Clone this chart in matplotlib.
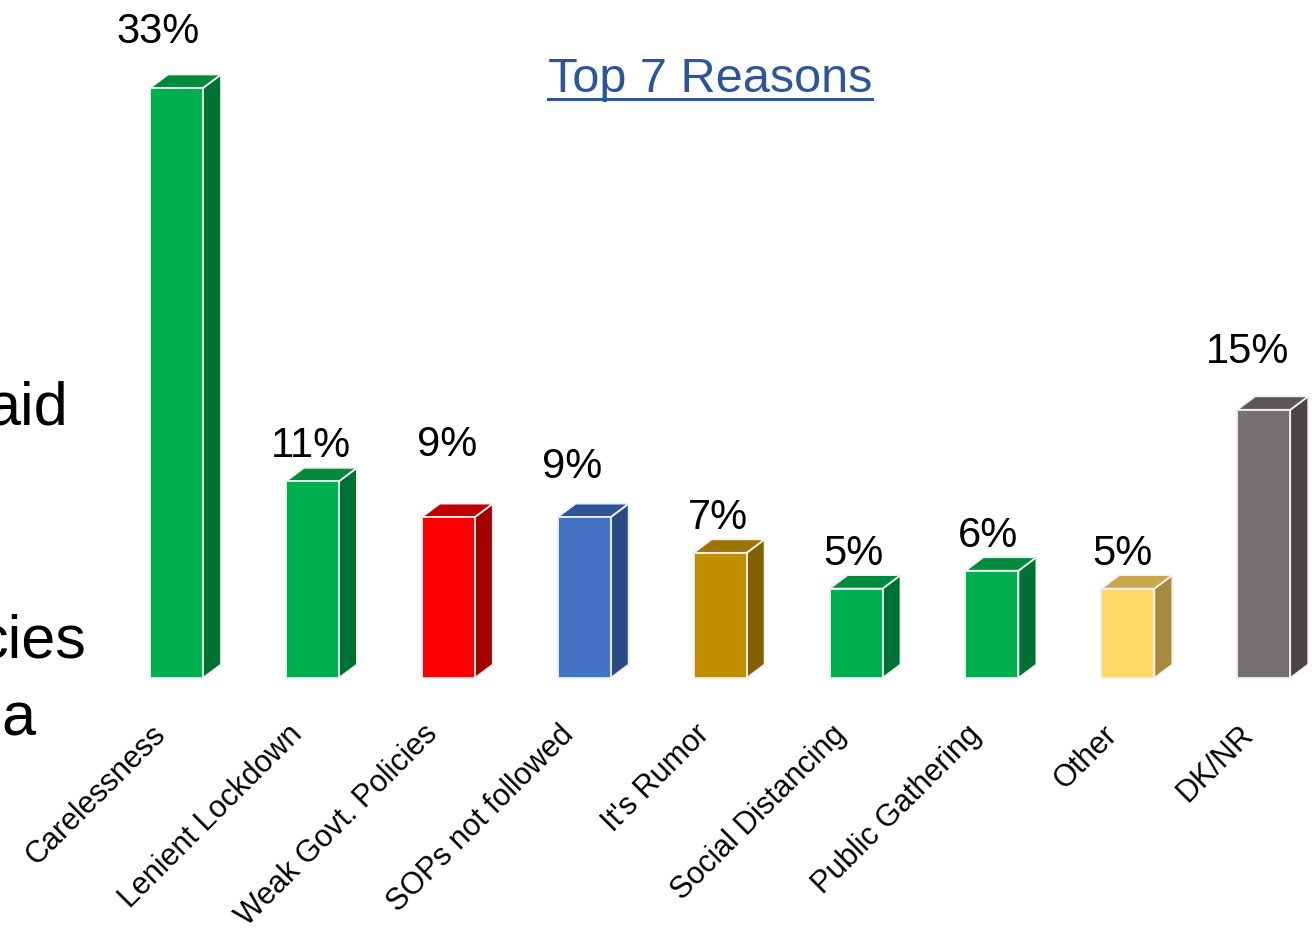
import matplotlib
matplotlib.use("Agg")
import matplotlib.pyplot as plt
from matplotlib.patches import Polygon
from matplotlib.lines import Line2D

plt.rcParams["font.family"] = ["Liberation Sans", "DejaVu Sans"]

categories = ["Carelessness", "Lenient Lockdown", "Weak Govt. Policies",
              "SOPs not followed", "It's Rumor", "Social Distancing",
              "Public Gathering", "Other", "DK/NR"]
values = [33, 11, 9, 9, 7, 5, 6, 5, 15]

# (front, top, side) shades per bar
palette = {
    "green": ("#00B050", "#008A3E", "#007133"),
    "red": ("#FF0000", "#C00000", "#A30000"),
    "blue": ("#4472C4", "#2F5597", "#2B4A82"),
    "gold": ("#BF8F00", "#9C7400", "#806000"),
    "yellow": ("#FFD966", "#C9A84C", "#A68B3F"),
    "gray": ("#767171", "#5A5656", "#4A4646"),
}
bar_colors = ["green", "green", "red", "blue", "gold", "green", "green",
              "yellow", "gray"]

# label nudges in pixels (dx, dy above front top)
label_nudge = [(-18, 56), (-1, 35), (-1, 72), (-12, 50), (-2, 35),
               (-3, 35), (-4, 35), (-5, 35), (-16, 58)]

W, H, DPI = 1312, 936, 100
fig = plt.figure(figsize=(W / DPI, H / DPI), dpi=DPI)
ax = fig.add_axes([0, 0, 1, 1])
ax.set_axis_off()

x0_px, step_px = 176.5, 135.9
base_px, px_per_pct = 678, 17.88
ax.set_xlim(-x0_px / step_px, (W - x0_px) / step_px)
ax.set_ylim(-(H - base_px) / px_per_pct, base_px / px_per_pct)

half_w = 26.5 / step_px
dx = 18 / step_px
dy = 13.5 / px_per_pct
edge = dict(edgecolor="#F0F0F0", linewidth=1.3, joinstyle="miter")

for i, (v, c) in enumerate(zip(values, bar_colors)):
    front, top, side = palette[c]
    l, r = i - half_w, i + half_w
    ax.add_patch(Polygon([(r, 0), (r + dx, dy), (r + dx, v + dy), (r, v)],
                         closed=True, facecolor=side, **edge))
    ax.add_patch(Polygon([(l, v), (r, v), (r + dx, v + dy), (l + dx, v + dy)],
                         closed=True, facecolor=top, **edge))
    ax.add_patch(Polygon([(l, 0), (r, 0), (r, v), (l, v)],
                         closed=True, facecolor=front, **edge))
    ndx, ndy = label_nudge[i]
    ax.annotate(f"{v}%", (i, v), xytext=(ndx, ndy), textcoords="offset pixels",
                ha="center", va="center", fontsize=30, color="black")
    ax.annotate(categories[i], (i, 0), xytext=(-15, -52),
                textcoords="offset pixels", ha="right", va="center",
                rotation=45, rotation_mode="anchor", fontsize=22,
                color="black")

# title with underline
title = fig.text(710 / W, 1 - 80 / H, "Top 7 Reasons", ha="center",
                 va="center", fontsize=35, color="#2F5597")
fig.canvas.draw()
bb = title.get_window_extent(fig.canvas.get_renderer())
uy = bb.y0 + 4
fig.add_artist(Line2D([bb.x0 / W, bb.x1 / W], [uy / H, uy / H],
                      color="#2F5597", linewidth=2.2))

# cut-off text fragments from the slide on the left
fig.text(68 / W, 1 - 425 / H, "aid", ha="right", va="baseline",
         fontsize=44, color="black")
fig.text(86 / W, 1 - 658 / H, "cies", ha="right", va="baseline",
         fontsize=44, color="black")
fig.text(35 / W, 1 - 735 / H, "a", ha="right", va="baseline",
         fontsize=44, color="black")

fig.savefig("out.png", dpi=DPI)
